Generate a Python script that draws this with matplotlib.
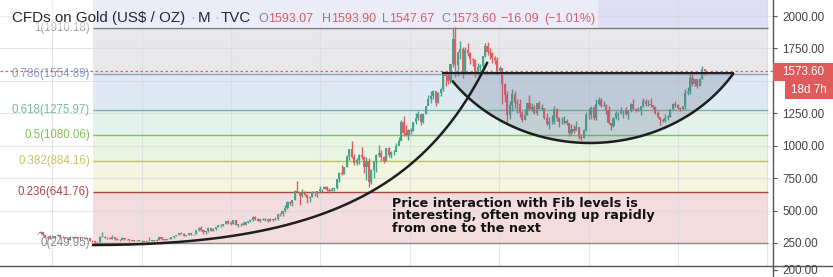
import numpy as np
import matplotlib.pyplot as plt
from matplotlib.patches import Rectangle
from matplotlib.lines import Line2D
from matplotlib.text import Annotation

plt.rcParams['font.family'] = 'Liberation Sans'

W, H = 833, 277

# monthly gold candles, Aug 1997 -> Feb 2020 (values estimated from the chart)
first_open = 326
closes = [
    325, 332, 311, 296, 290,                                        # 1997 Aug-Dec
    304, 297, 301, 310, 293, 296, 288, 273, 294, 292, 294, 288,     # 1998
    287, 287, 280, 286, 268, 262, 255, 254, 299, 299, 291, 290,     # 1999
    283, 293, 277, 274, 272, 288, 282, 277, 273, 264, 270, 272,     # 2000
    266, 267, 258, 264, 267, 271, 265, 273, 293, 279, 275, 279,     # 2001
    282, 297, 302, 308, 326, 318, 305, 312, 324, 317, 317, 347,     # 2002
    368, 348, 336, 339, 364, 346, 354, 375, 385, 386, 398, 416,     # 2003
    403, 397, 426, 388, 393, 395, 391, 408, 416, 428, 453, 438,     # 2004
    422, 435, 428, 435, 417, 436, 429, 433, 473, 470, 495, 517,     # 2005
    568, 556, 583, 654, 643, 613, 633, 623, 599, 604, 646, 632,     # 2006
    651, 665, 663, 680, 659, 650, 666, 673, 743, 789, 783, 834,     # 2007
    923, 972, 916, 865, 886, 928, 913, 833, 880, 718, 816, 882,     # 2008
    928, 942, 916, 883, 979, 927, 955, 955, 1001, 1040, 1182, 1096,  # 2009
    1081, 1118, 1113, 1180, 1212, 1244, 1181, 1248, 1307, 1359, 1386, 1421,  # 2010
    1332, 1410, 1439, 1556, 1536, 1500, 1628, 1826, 1620, 1725, 1746, 1565,  # 2011
    1738, 1711, 1669, 1664, 1561, 1604, 1614, 1692, 1772, 1719, 1713, 1675,  # 2012
    1663, 1578, 1596, 1476, 1393, 1234, 1312, 1396, 1327, 1323, 1253, 1202,  # 2013
    1240, 1326, 1284, 1296, 1250, 1327, 1282, 1287, 1210, 1171, 1182, 1184,  # 2014
    1283, 1213, 1183, 1184, 1190, 1172, 1095, 1132, 1115, 1142, 1065, 1061,  # 2015
    1118, 1238, 1233, 1293, 1215, 1322, 1351, 1309, 1316, 1276, 1173, 1152,  # 2016
    1211, 1249, 1249, 1268, 1269, 1242, 1269, 1322, 1280, 1271, 1275, 1303,  # 2017
    1345, 1318, 1325, 1315, 1299, 1253, 1224, 1201, 1192, 1215, 1222, 1282,  # 2018
    1321, 1313, 1292, 1284, 1305, 1409, 1413, 1520, 1472, 1513, 1464, 1517,  # 2019
    1593.07, 1573.60,                                                # 2020
]
highs = [
    330, 342, 334, 314, 300,
    308, 306, 303, 316, 311, 300, 297, 291, 301, 299, 301, 297,
    292, 291, 290, 292, 289, 272, 264, 261, 307, 338, 304, 294,
    293, 313, 297, 289, 281, 294, 290, 280, 277, 274, 272, 276,
    272, 270, 269, 268, 294, 275, 272, 278, 293, 292, 280, 282,
    285, 299, 304, 312, 328, 332, 324, 315, 327, 325, 323, 349,
    372, 382, 352, 341, 374, 366, 367, 375, 392, 396, 399, 417,
    427, 416, 427, 428, 395, 404, 408, 414, 419, 434, 455, 456,
    439, 438, 446, 439, 436, 443, 437, 447, 475, 479, 496, 541,
    575, 573, 585, 655, 730, 646, 665, 649, 628, 612, 652, 648,
    652, 690, 670, 692, 687, 671, 683, 675, 743, 794, 848, 836,
    929, 973, 1033, 933, 907, 935, 988, 917, 913, 904, 824, 884,
    934, 1005, 964, 917, 981, 990, 959, 964, 1024, 1070, 1195, 1226,
    1162, 1126, 1135, 1184, 1249, 1265, 1237, 1251, 1308, 1388, 1425, 1431,
    1424, 1411, 1447, 1575, 1577, 1556, 1632, 1912, 1921, 1728, 1804, 1763,
    1764, 1791, 1722, 1678, 1668, 1641, 1630, 1692, 1790, 1796, 1755, 1723,
    1694, 1683, 1617, 1599, 1487, 1424, 1348, 1434, 1424, 1362, 1361, 1267,
    1280, 1332, 1392, 1331, 1315, 1332, 1345, 1321, 1287, 1255, 1222, 1239,
    1307, 1293, 1223, 1225, 1232, 1205, 1175, 1170, 1157, 1191, 1143, 1088,
    1128, 1263, 1287, 1306, 1304, 1362, 1375, 1367, 1344, 1318, 1305, 1178,
    1220, 1264, 1262, 1295, 1276, 1296, 1270, 1331, 1357, 1290, 1299, 1307,
    1366, 1361, 1356, 1365, 1316, 1309, 1266, 1218, 1214, 1243, 1237, 1284,
    1326, 1347, 1324, 1300, 1306, 1439, 1452, 1555, 1557, 1518, 1515, 1524,
    1611, 1593.90,
]
lows = [
    318, 318, 306, 294, 283,
    279, 292, 291, 300, 292, 287, 285, 271, 273, 286, 289, 286,
    282, 281, 278, 279, 266, 257, 252, 251, 254, 295, 290, 279,
    280, 282, 276, 272, 264, 272, 274, 271, 267, 263, 262, 265,
    262, 258, 256, 256, 263, 265, 262, 265, 271, 276, 270, 272,
    277, 281, 290, 302, 308, 316, 302, 302, 310, 315, 315, 316,
    345, 346, 320, 322, 336, 340, 342, 349, 370, 374, 378, 395,
    397, 392, 393, 386, 371, 383, 386, 391, 401, 412, 423, 431,
    417, 411, 424, 423, 414, 416, 417, 428, 430, 457, 460, 488,
    514, 540, 535, 583, 646, 543, 608, 614, 561, 564, 602, 612,
    603, 645, 636, 663, 651, 637, 648, 648, 670, 722, 773, 781,
    834, 887, 905, 852, 850, 859, 901, 787, 735, 682, 706, 754,
    801, 915, 880, 866, 882, 913, 908, 932, 989, 1024, 1044, 1077,
    1074, 1045, 1087, 1114, 1164, 1202, 1157, 1178, 1241, 1314, 1331, 1358,
    1309, 1329, 1381, 1419, 1462, 1478, 1480, 1603, 1532, 1534, 1670, 1523,
    1564, 1695, 1628, 1615, 1527, 1547, 1558, 1587, 1686, 1701, 1672, 1635,
    1627, 1555, 1565, 1321, 1338, 1180, 1207, 1270, 1292, 1251, 1221, 1182,
    1202, 1240, 1278, 1268, 1241, 1240, 1281, 1273, 1205, 1161, 1131, 1170,
    1167, 1191, 1142, 1170, 1170, 1162, 1077, 1080, 1098, 1136, 1052, 1046,
    1062, 1111, 1208, 1207, 1199, 1201, 1311, 1300, 1304, 1241, 1171, 1122,
    1146, 1208, 1195, 1244, 1215, 1236, 1204, 1261, 1272, 1261, 1264, 1236,
    1302, 1307, 1303, 1301, 1281, 1248, 1211, 1160, 1180, 1183, 1196, 1221,
    1277, 1302, 1281, 1266, 1273, 1280, 1392, 1400, 1460, 1459, 1445, 1459,
    1517, 1547.67,
]

# fibonacci retracement drawn on the chart
fib_ratios = [0, 0.236, 0.382, 0.5, 0.618, 0.786, 1]
fib_prices = [249.95, 641.76, 884.16, 1080.06, 1275.97, 1554.89, 1910.18]
fib_line_colors = ['#8a8a8a', '#a8433f', '#bcc25c', '#84c060', '#70b7a0', '#8ba3c4', '#7a7a7a']
fib_text_colors = ['#8a8a8a', '#b0474b', '#c6c865', '#82c055', '#74baa2', '#7f9cc4', '#a0a0a0']
fib_band_colors = ['#f2dcde', '#f3f5df', '#e8f5e2', '#e1f3eb', '#dee9f4', '#e8e8ea', '#dedef5']

price_ticks = [250, 500, 750, 1000, 1250, 1500, 1750, 2000]
last_price = 1573.60
legend_pieces = [('O', '1593.07'), ('H', '1593.90'), ('L', '1547.67'), ('C', '1573.60')]
legend_change = ['\u221216.09', '(\u22121.01%)']

UP, DOWN = '#48a38c', '#df5d63'

fig = plt.figure(figsize=(W / 100, H / 100), dpi=100)
fig.patch.set_facecolor('white')
ax = fig.add_axes([0, 11 / H, 773 / W, 266 / H])
ax.set_facecolor('white')
ax.set_xlim(-15.4, 297.6)
ax.set_ylim(72.5, 2123.4)

closes = np.array(closes, float)
highs = np.array(highs, float)
lows = np.array(lows, float)
opens = np.r_[first_open, closes[:-1]]
idx = np.arange(len(closes))
up = closes >= opens

# fib bands + levels
fx0, fx1 = 22.3, 295.5
band_edges = fib_prices + [2300]
for lo, hi, col in zip(band_edges[:-1], band_edges[1:], fib_band_colors):
    ax.fill_between([fx0, fx1], lo, hi, color=col, lw=0, zorder=0.5)

# grid
for p in price_ticks:
    ax.axhline(p, color='#d9d9e0', lw=0.8, alpha=0.7, zorder=0.8)
for gx in np.arange(5.7, 300, 36.2):
    ax.axvline(gx, color='#d9d9e0', lw=0.8, alpha=0.7, zorder=0.8)

for r, p, lc, tc in zip(fib_ratios, fib_prices, fib_line_colors, fib_text_colors):
    ax.hlines(p, fx0, fx1, color=lc, lw=1.0, zorder=1.2)
    ax.text(21.0, p, f'{r:g}({p:.2f})', ha='right', va='center', color=tc,
            fontsize=8.3, zorder=1.3)

# candles
for mask, col in [(up, UP), (~up, DOWN)]:
    ax.vlines(idx[mask], lows[mask], highs[mask], color=col, lw=1.0, zorder=3)
    bot = np.minimum(opens, closes)[mask]
    ht = np.abs(closes - opens)[mask]
    ax.bar(idx[mask], ht, bottom=bot, width=0.85, color=col, lw=0, zorder=3.1)

# current price line
ax.axhline(last_price, color='#dc6068', lw=0.9, ls=(0, (2, 2)), zorder=4)

# cup shape: flat rim + rounded bottom
rim_price, rim_x0, rim_x1 = 1563, 163.9, 281.4
cup_cx, cup_a, cup_bottom, cup_b = 223.5, 68.8, 1021, 1157
tt = np.linspace(168, rim_x1, 120)
arc = cup_bottom + cup_b * (1 - np.sqrt(np.clip(1 - ((tt - cup_cx) / cup_a) ** 2, 0, 1)))
ax.fill(np.r_[rim_x0, tt], np.r_[rim_price, arc], color='#646e8c', alpha=0.25, lw=0, zorder=4.5)
ax.plot(tt, arc, color='#1e1e1e', lw=1.8, zorder=5)
ax.plot([rim_x0, rim_x1], [rim_price, rim_price], color='#1e1e1e', lw=1.4, zorder=5)

# rising curve (cubic bezier through control points)
P = np.array([[22.3, 234.4], [114.2, 234.4], [156.7, 658.4], [181.8, 1637.6]])
s = np.linspace(0, 1, 150)[:, None]
bez = ((1 - s) ** 3) * P[0] + 3 * s * (1 - s) ** 2 * P[1] + 3 * s ** 2 * (1 - s) * P[2] + s ** 3 * P[3]
ax.plot(bez[:, 0], bez[:, 1], color='#1e1e1e', lw=1.8, zorder=5)

ax.text(143.3, 606, 'Price interaction with Fib levels is\ninteresting, often moving up rapidly\nfrom one to the next',
        ha='left', va='top', fontsize=9.2, family='DejaVu Sans', weight='bold',
        color='#111111', linespacing=0.95, zorder=6)

# price scale
ax.set_xticks([])
ax.yaxis.tick_right()
ax.set_yticks([p for p in price_ticks if p != 1500])
ax.set_yticklabels([f'{p:.2f}' for p in price_ticks if p != 1500])
ax.tick_params(axis='y', length=2.9, width=0.8, pad=3.6, labelsize=8.4,
               colors='#555555', labelcolor='#444444')
for side in ['top', 'left', 'bottom']:
    ax.spines[side].set_visible(False)
ax.spines['right'].set_color('#555555')
ax.spines['right'].set_linewidth(1)

# title box + legend text
fig.add_artist(Rectangle((0, (H - 28) / H), 598 / W, 28 / H, transform=fig.transFigure,
                         facecolor='white', alpha=0.45, lw=0, zorder=1))
yb = (H - 22) / H
fig.text(12 / W, yb, 'CFDs on Gold (US$ / OZ)', fontsize=10.9, color='#26282e', va='baseline')
fig.text(190 / W, yb, '\u00b7', fontsize=10.9, color='#b8b8c4', va='baseline')
fig.text(198 / W, yb, 'M', fontsize=10.9, color='#26282e', va='baseline')
fig.text(214 / W, yb, '\u00b7', fontsize=10.9, color='#b8b8c4', va='baseline')
fig.text(221 / W, yb, 'TVC', fontsize=10.9, color='#26282e', va='baseline')

for (letter, val), x in zip(legend_pieces, [258, 321.7, 381.7, 441.7]):
    t = fig.text(x / W, yb, letter, fontsize=9, color='#7d8596', va='baseline')
    fig.add_artist(Annotation(val, xy=(1, 0), xycoords=t, va='bottom', fontsize=9,
                              color='#d0616b'))
for txt, x in zip(legend_change, [500.7, 544]):
    fig.text(x / W, yb, txt, fontsize=9, color='#d0616b', va='baseline')

# last price tag
fig.add_artist(Rectangle((773 / W, (H - 81) / H), 60 / W, 18 / H, transform=fig.transFigure,
                         facecolor='#e05c5c', lw=0, zorder=2))
fig.add_artist(Rectangle((785 / W, (H - 99) / H), 48 / W, 18 / H, transform=fig.transFigure,
                         facecolor='#e05c5c', lw=0, zorder=2))
fig.text(782 / W, (H - 72) / H, f'{last_price:.2f}', fontsize=8.4, color='white', va='center', zorder=3)
fig.text(809 / W, (H - 90) / H, '18d 7h', fontsize=8.4, color='white', va='center', ha='center', zorder=3)

# lower pane border
fig.add_artist(Line2D([0, 1], [11 / H, 11 / H], transform=fig.transFigure, color='#555555', lw=1))
fig.add_artist(Line2D([773 / W, 773 / W], [0, 11 / H], transform=fig.transFigure, color='#555555', lw=1))
fig.add_artist(Line2D([773 / W, 777 / W], [7 / H, 7 / H], transform=fig.transFigure, color='#555555', lw=0.8))
fig.text(782 / W, (H - 271.5) / H, '200.00', fontsize=8.4, color='#444444', va='center')

fig.savefig('out.png', dpi=100)
